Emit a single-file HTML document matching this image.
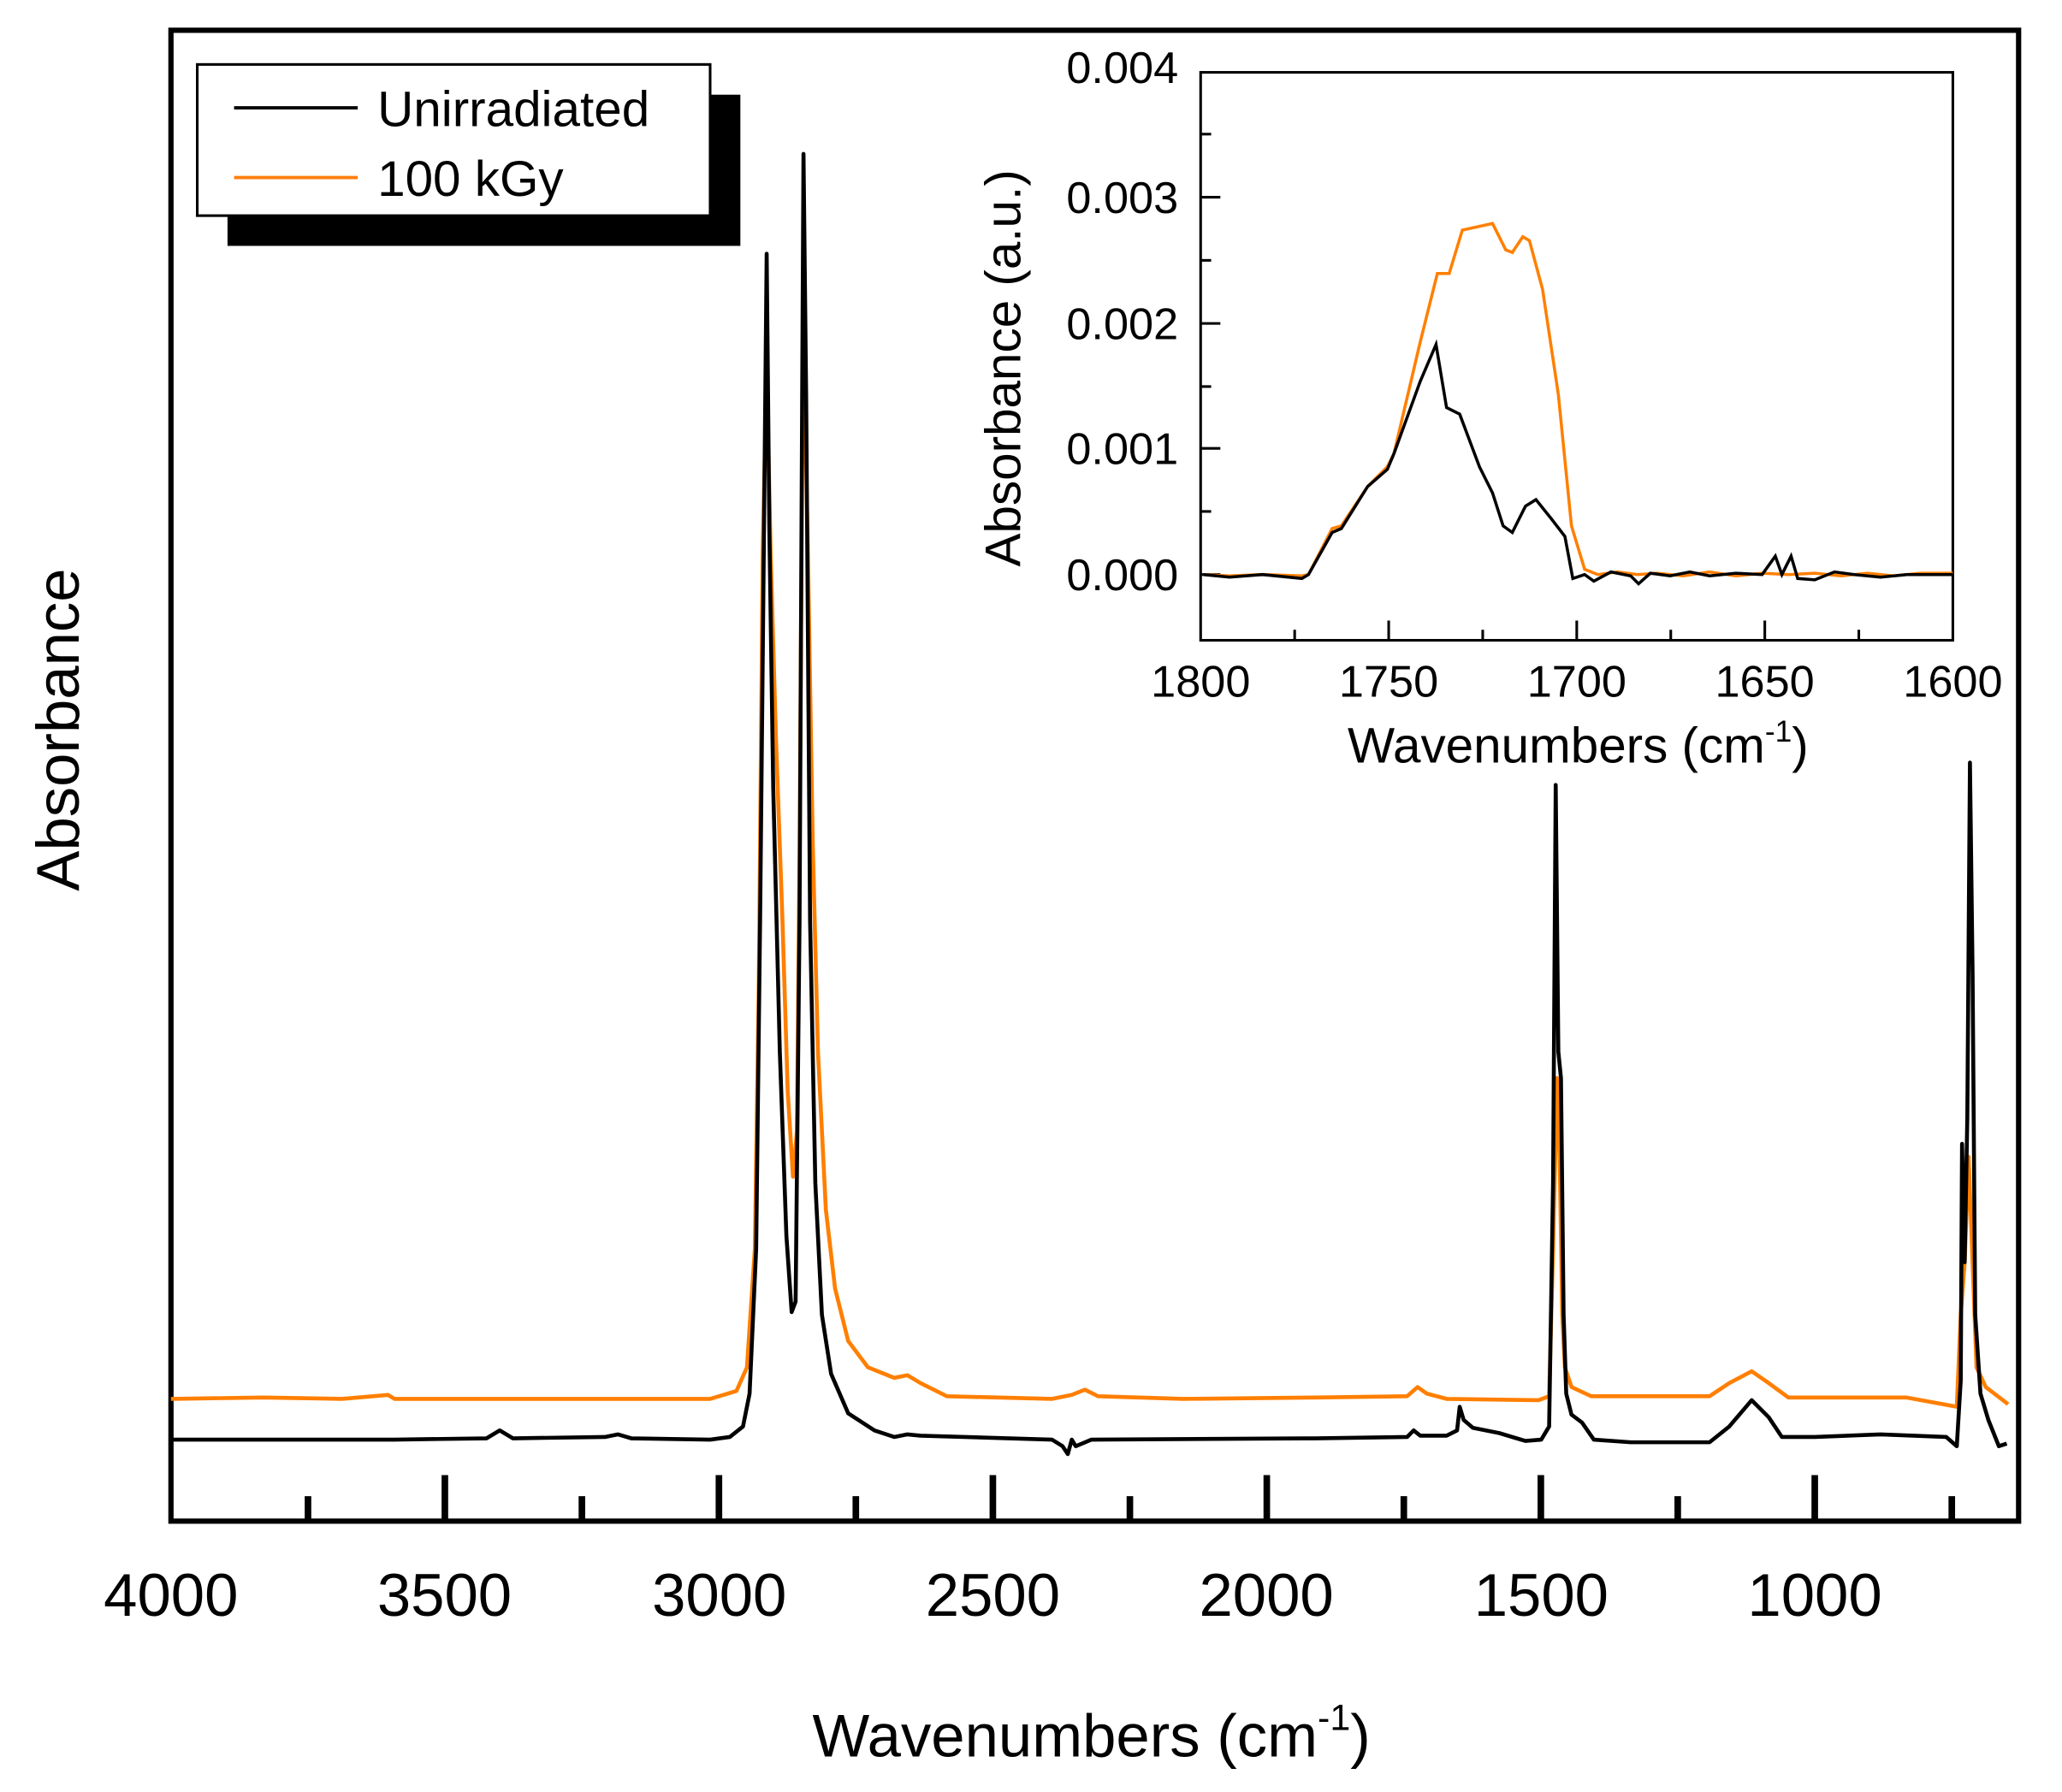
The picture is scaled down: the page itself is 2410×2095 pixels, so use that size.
<!DOCTYPE html>
<html><head><meta charset="utf-8"><style>
html,body{margin:0;padding:0;background:#fff}
svg{display:block}
text{font-family:"Liberation Sans",sans-serif;fill:#000}
</style></head><body>
<svg width="2410" height="2095" viewBox="0 0 1568 1363" xmlns="http://www.w3.org/2000/svg">
<rect width="1568" height="1363" fill="#fff"/>
<rect x="130" y="23" width="1405" height="1134" fill="none" stroke="#000" stroke-width="4"/>
<g stroke="#000" stroke-width="5">
<line x1="338.3" y1="1157" x2="338.3" y2="1122"/><line x1="546.7" y1="1157" x2="546.7" y2="1122"/>
<line x1="755" y1="1157" x2="755" y2="1122"/><line x1="963.3" y1="1157" x2="963.3" y2="1122"/>
<line x1="1171.7" y1="1157" x2="1171.7" y2="1122"/><line x1="1380" y1="1157" x2="1380" y2="1122"/>
<line x1="234.2" y1="1157" x2="234.2" y2="1138"/><line x1="442.5" y1="1157" x2="442.5" y2="1138"/>
<line x1="650.8" y1="1157" x2="650.8" y2="1138"/><line x1="859.2" y1="1157" x2="859.2" y2="1138"/>
<line x1="1067.5" y1="1157" x2="1067.5" y2="1138"/><line x1="1275.8" y1="1157" x2="1275.8" y2="1138"/>
<line x1="1484.2" y1="1157" x2="1484.2" y2="1138"/>
</g>
<g font-size="46" text-anchor="middle">
<text x="130" y="1229">4000</text><text x="338" y="1229">3500</text><text x="547" y="1229">3000</text>
<text x="755" y="1229">2500</text><text x="963" y="1229">2000</text><text x="1172" y="1229">1500</text><text x="1380" y="1229">1000</text>
</g>
<text x="830" y="1336" font-size="46" text-anchor="middle">Wavenumbers (cm<tspan dy="-20" font-size="28">-1</tspan><tspan dy="20">)</tspan></text>
<text transform="translate(60,555) rotate(-90)" font-size="46" text-anchor="middle">Absorbance</text>
<rect x="173" y="72" width="390" height="115" fill="#000"/>
<rect x="150" y="49" width="390" height="115" fill="#fff" stroke="#000" stroke-width="2"/>
<line x1="178" y1="82" x2="272" y2="82" stroke="#000" stroke-width="2.5"/>
<line x1="178" y1="135" x2="272" y2="135" stroke="#ff7f0e" stroke-width="2.5"/>
<text x="287" y="96" font-size="38">Unirradiated</text>
<text x="287" y="149" font-size="38">100 kGy</text>
<polyline fill="none" stroke="#ff7f00" stroke-width="3" stroke-linejoin="round" points="130,1064 200,1063 260,1064 295,1061 300,1064 400,1064 500,1064 540,1064 560,1058 568,1040 574,950 577,750 580,420 583,278 586,420 590,560 595,700 599,830 603,895 606,860 608,650 610,350 611,258 614,400 618,640 622,800 628,920 635,980 645,1020 660,1040 680,1048 690,1046 700,1052 720,1062 800,1064 815,1061 825,1057 835,1062 900,1064 1000,1063 1070,1062 1078,1055 1085,1060 1100,1064 1170,1065 1178,1062 1181,950 1184,820 1186,880 1188,1000 1190,1040 1195,1055 1210,1062 1300,1062 1315,1052 1332,1043 1345,1052 1360,1063 1450,1063 1488,1070 1491,1000 1494,960 1497,880 1500,960 1503,1040 1510,1055 1527,1068"/>
<polyline fill="none" stroke="#000" stroke-width="3" stroke-linejoin="round" points="130,1095 300,1095 370,1094 380,1088 390,1094 460,1093 470,1091 480,1094 540,1095 555,1093 565,1085 570,1060 575,950 578,700 581,400 583,193 585,400 588,600 593,800 598,940 602,998 605,990 608,700 610,300 611,117 613,300 616,700 620,900 625,1000 632,1045 645,1075 665,1088 680,1093 690,1091 700,1092 800,1095 808,1100 812,1106 815,1095 818,1100 830,1095 1000,1094 1070,1093 1075,1088 1080,1092 1100,1092 1108,1088 1110,1070 1113,1080 1120,1086 1140,1090 1160,1096 1172,1095 1178,1085 1181,900 1183,597 1185,800 1187,820 1189,1000 1191,1060 1195,1076 1203,1082 1212,1095 1240,1097 1300,1097 1315,1085 1332,1065 1345,1078 1355,1093 1380,1093 1430,1091 1480,1093 1488,1100 1491,1050 1492,870 1494,960 1496,850 1498,580 1500,740 1502,1000 1506,1060 1512,1080 1520,1100 1526,1098"/>
<rect x="913" y="55" width="572" height="432" fill="none" stroke="#000" stroke-width="2"/>
<g stroke="#000" stroke-width="2">
<line x1="913" y1="437" x2="928" y2="437"/><line x1="913" y1="341" x2="928" y2="341"/>
<line x1="913" y1="246" x2="928" y2="246"/><line x1="913" y1="150" x2="928" y2="150"/>
<line x1="913" y1="389" x2="921" y2="389"/><line x1="913" y1="294" x2="921" y2="294"/>
<line x1="913" y1="198" x2="921" y2="198"/><line x1="913" y1="102" x2="921" y2="102"/>
<line x1="1056" y1="487" x2="1056" y2="472"/><line x1="1199" y1="487" x2="1199" y2="472"/><line x1="1342" y1="487" x2="1342" y2="472"/>
<line x1="984.5" y1="487" x2="984.5" y2="479"/><line x1="1127.5" y1="487" x2="1127.5" y2="479"/>
<line x1="1270.5" y1="487" x2="1270.5" y2="479"/><line x1="1413.5" y1="487" x2="1413.5" y2="479"/>
</g>
<g font-size="34" text-anchor="end">
<text x="896" y="449">0.000</text><text x="896" y="353">0.001</text><text x="896" y="258">0.002</text>
<text x="896" y="162">0.003</text><text x="896" y="63">0.004</text>
</g>
<g font-size="34" text-anchor="middle">
<text x="913" y="530">1800</text><text x="1056" y="530">1750</text><text x="1199" y="530">1700</text>
<text x="1342" y="530">1650</text><text x="1485" y="530">1600</text>
</g>
<text x="1200" y="580" font-size="38" text-anchor="middle">Wavenumbers (cm<tspan dy="-16" font-size="23">-1</tspan><tspan dy="16">)</tspan></text>
<text transform="translate(776,280) rotate(-90)" font-size="38" text-anchor="middle">Absorbance (a.u.)</text>
<polyline fill="none" stroke="#ff7f00" stroke-width="2.3" points="915,437 935,438 960,437 990,438 995,437 1013,402 1020,400 1040,370 1055,355 1060,345 1080,260 1093,208 1102,208 1112,175 1135,170 1145,190 1150,192 1158,180 1163,183 1173,220 1185,300 1195,400 1205,433 1215,437 1230,435 1245,437 1260,436 1280,438 1300,435 1320,438 1340,436 1360,437 1380,436 1400,438 1420,436 1440,438 1460,436 1485,436"/>
<polyline fill="none" stroke="#000" stroke-width="2.3" points="915,437 935,439 960,437 990,440 995,437 1013,405 1020,402 1040,370 1055,357 1060,345 1080,290 1092,262 1100,310 1110,315 1125,355 1135,375 1143,400 1150,405 1160,385 1168,380 1180,395 1190,408 1196,440 1205,437 1212,442 1225,435 1240,438 1246,444 1255,436 1270,438 1285,435 1300,438 1320,436 1340,437 1350,423 1355,437 1362,423 1367,440 1380,441 1395,435 1410,437 1430,439 1450,437 1485,437"/>
</svg>
</body></html>
